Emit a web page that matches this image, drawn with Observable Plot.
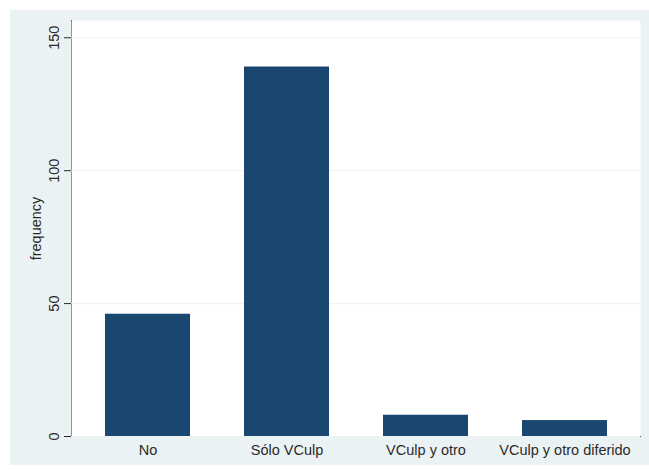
<!DOCTYPE html>
<html>
<head>
<meta charset="utf-8">
<script src="https://cdn.jsdelivr.net/npm/d3@7"></script>
<script src="https://cdn.jsdelivr.net/npm/@observablehq/plot@0.6"></script>
<style>
  body { margin: 0; background: #ffffff; }
  #chart { position: absolute; left: 10px; top: 10px; width: 639px; height: 455px; background: #eaf2f3; }
</style>
</head>
<body>
<div id="chart"></div>
<script>
// Frequency of each category
const categories = ["No", "Sólo VCulp", "VCulp y otro", "VCulp y otro diferido"];
const frequencies = [46, 139, 8, 6];
const yTicks = [0, 50, 100, 150];

const data = categories.map((category, i) => ({category, frequency: frequencies[i]}));

const chart = Plot.plot({
  width: 639,
  height: 455,
  marginLeft: 61,
  marginRight: 9,
  marginTop: 10,
  marginBottom: 29,
  style: {
    background: "transparent",
    fontFamily: "'Liberation Sans', Arial, sans-serif",
    fontSize: "14.5px",
    color: "#2a2a2a"
  },
  x: {
    domain: categories,
    paddingInner: 0.39,
    paddingOuter: 0.23,
    label: null,
    tickSize: 0,
    tickPadding: 8,
    line: true
  },
  y: {
    domain: [0, 156.5],
    ticks: yTicks,
    tickRotate: -90,
    tickSize: 7,
    tickPadding: 6,
    label: "frequency",
    labelArrow: "none",
    labelAnchor: "center",
    labelOffset: 41,
    line: true
  },
  marks: [
    Plot.frame({fill: "white", stroke: null}),
    Plot.gridY(yTicks, {stroke: "#eaf2f3", strokeOpacity: 1}),
    Plot.barY(data, {x: "category", y: "frequency", fill: "#1a476f"})
  ]
});

document.getElementById("chart").appendChild(chart);
</script>
</body>
</html>
